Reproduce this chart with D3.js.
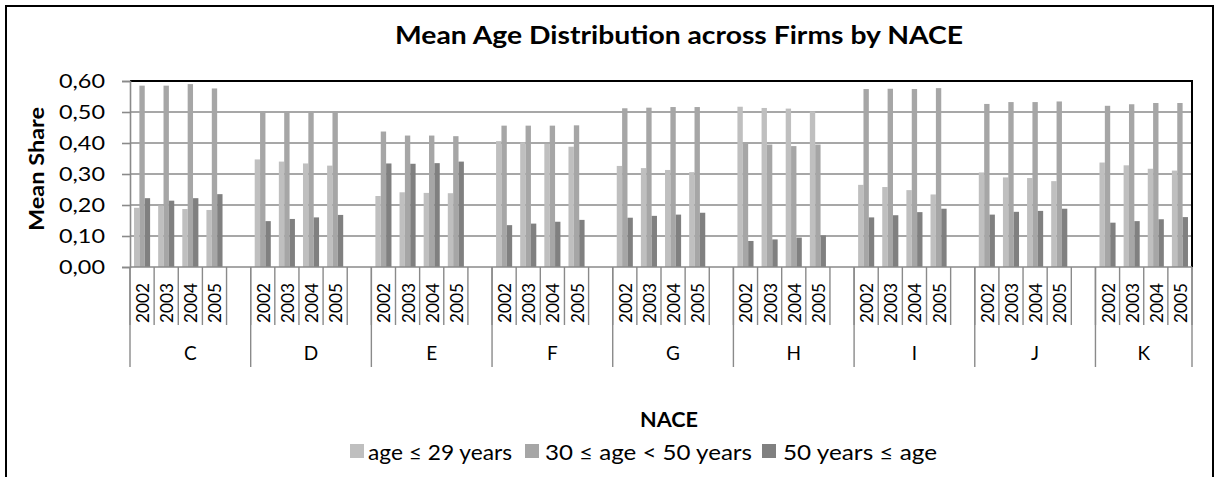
<!DOCTYPE html>
<html>
<head>
<meta charset="utf-8">
<script src="https://cdn.jsdelivr.net/npm/d3@7"></script>
<style>
  html, body { margin: 0; padding: 0; background: #fff; }
  svg { display: block; font-family: Lato, "Open Sans", sans-serif; }
</style>
</head>
<body>
<svg id="chart" width="1219" height="477"></svg>
<script>
// ---- data ----
const categories = ["C", "D", "E", "F", "G", "H", "I", "J", "K"];
const years = ["2002", "2003", "2004", "2005"];
const seriesNames = ["age \u2264 29 years", "30 \u2264 age < 50 years", "50 years \u2264 age"];
// values ordered category by category, year by year
const young = [
  0.191, 0.198, 0.187, 0.184,
  0.347, 0.340, 0.334, 0.327,
  0.229, 0.241, 0.239, 0.238,
  0.406, 0.402, 0.397, 0.388,
  0.326, 0.319, 0.313, 0.306,
  0.517, 0.513, 0.511, 0.502,
  0.265, 0.258, 0.248, 0.234,
  0.305, 0.289, 0.287, 0.277,
  0.337, 0.328, 0.317, 0.311
];
const middle = [
  0.585, 0.585, 0.590, 0.576,
  0.501, 0.501, 0.501, 0.501,
  0.437, 0.424, 0.424, 0.422,
  0.456, 0.456, 0.456, 0.457,
  0.512, 0.514, 0.516, 0.516,
  0.397, 0.395, 0.390, 0.395,
  0.574, 0.575, 0.574, 0.577,
  0.526, 0.532, 0.532, 0.534,
  0.520, 0.525, 0.529, 0.529
];
const old = [
  0.222, 0.214, 0.222, 0.235,
  0.148, 0.155, 0.160, 0.168,
  0.334, 0.333, 0.335, 0.340,
  0.135, 0.140, 0.146, 0.152,
  0.159, 0.165, 0.169, 0.175,
  0.084, 0.089, 0.095, 0.102,
  0.160, 0.167, 0.177, 0.188,
  0.169, 0.178, 0.181, 0.188,
  0.143, 0.148, 0.154, 0.161
];
const yTicks = [0, 0.1, 0.2, 0.3, 0.4, 0.5, 0.6];
const yTickLabels = ["0,00", "0,10", "0,20", "0,30", "0,40", "0,50", "0,60"];
const title = "Mean Age Distribution across Firms by NACE";
const yTitle = "Mean Share";
const xTitle = "NACE";
const colors = ["#bfbfbf", "#a6a6a6", "#808080"];

// ---- layout ----
const svg = d3.select("#chart");
const plot = { left: 130, right: 1192, top: 81, bottom: 267 };

// slots: 4 years per category, a blank slot between categories
const slots = [];
categories.forEach((c, ci) => {
  years.forEach(yr => slots.push(c + "|" + yr));
  if (ci < categories.length - 1) slots.push(c + "|gap");
});

const x = d3.scaleBand().domain(slots).range([plot.left, plot.right]).padding(0);
const inner = d3.scaleBand().domain([0, 1, 2]).range([0, x.bandwidth()])
  .paddingInner(0).paddingOuter(0.75);
const y = d3.scaleLinear().domain([0, 0.6]).range([plot.bottom, plot.top]);

// outer chart border
svg.append("rect").attr("x", 6).attr("y", 6).attr("width", 1207).attr("height", 490)
  .attr("fill", "none").attr("stroke", "#000").attr("stroke-width", 2);

// gridlines
svg.append("g").selectAll("line").data(yTicks.filter(d => d > 0 && d < 0.6)).join("line")
  .attr("x1", plot.left).attr("x2", plot.right)
  .attr("y1", d => y(d)).attr("y2", d => y(d))
  .attr("stroke", "#8a8a8a").attr("stroke-width", 1.6);

// bars
const records = [];
const seriesVals = [young, middle, old];
categories.forEach((c, ci) => {
  years.forEach((yr, yi) => {
    const idx = ci * years.length + yi;
    seriesVals.forEach((arr, si) => records.push({ slot: c + "|" + yr, s: si, v: arr[idx] }));
  });
});
svg.append("g").selectAll("rect").data(records).join("rect")
  .attr("x", d => x(d.slot) + inner(d.s))
  .attr("width", inner.bandwidth())
  .attr("y", d => y(d.v))
  .attr("height", d => y(0) - y(d.v))
  .attr("fill", d => colors[d.s]);

// plot border top & right (black)
svg.append("path")
  .attr("d", `M${plot.left},${plot.top}H${plot.right}V${plot.bottom}`)
  .attr("fill", "none").attr("stroke", "#000").attr("stroke-width", 2);

// y axis
const yAxis = svg.append("g").attr("transform", `translate(${plot.left},0)`)
  .call(d3.axisLeft(y).tickValues(yTicks).tickFormat((d, i) => yTickLabels[i])
    .tickSize(8).tickPadding(17));
yAxis.select(".domain").attr("stroke", "#8a8a8a").attr("stroke-width", 1.6);
yAxis.selectAll(".tick line").attr("stroke", "#8a8a8a").attr("stroke-width", 1.6);
yAxis.selectAll(".tick text").attr("font-size", 20).attr("fill", "#000")
  .attr("font-family", "Lato, sans-serif").attr("textLength", 46).attr("lengthAdjust", "spacingAndGlyphs");

// x axis: baseline
svg.append("line").attr("x1", plot.left).attr("x2", plot.right)
  .attr("y1", plot.bottom).attr("y2", plot.bottom)
  .attr("stroke", "#8a8a8a").attr("stroke-width", 1.6);

// year-level separators
const bounds = slots.map(s => x(s)).concat([plot.right]);
svg.append("g").selectAll("line").data(bounds).join("line")
  .attr("x1", d => d).attr("x2", d => d)
  .attr("y1", plot.bottom).attr("y2", 325)
  .attr("stroke", "#8a8a8a").attr("stroke-width", 1.4);

// category-level separators
const groupStarts = categories.map(c => x(c + "|" + years[0])).concat([plot.right]);
svg.append("g").selectAll("line").data(groupStarts).join("line")
  .attr("x1", d => d).attr("x2", d => d)
  .attr("y1", plot.bottom).attr("y2", 367)
  .attr("stroke", "#8a8a8a").attr("stroke-width", 1.4);

// year labels
const yearSlots = slots.filter(s => !s.endsWith("|gap"));
svg.append("g").selectAll("text").data(yearSlots).join("text")
  .attr("transform", d => `translate(${x(d) + x.bandwidth() / 2},303) rotate(-90)`)
  .attr("text-anchor", "middle").attr("dominant-baseline", "central")
  .attr("font-size", 18).attr("textLength", 40).attr("lengthAdjust", "spacingAndGlyphs")
  .text(d => d.split("|")[1]);

// category labels
svg.append("g").selectAll("text").data(categories).join("text")
  .attr("x", (d, i) => (groupStarts[i] + groupStarts[i + 1]) / 2)
  .attr("y", 360)
  .attr("text-anchor", "middle").attr("font-size", 19)
  .text(d => d);

// titles
svg.append("text").attr("x", 679).attr("y", 44).attr("text-anchor", "middle")
  .attr("font-size", 24).attr("font-weight", "bold")
  .attr("textLength", 568).attr("lengthAdjust", "spacingAndGlyphs").text(title);
svg.append("text").attr("transform", "translate(44,169) rotate(-90)")
  .attr("text-anchor", "middle").attr("font-size", 21).attr("font-weight", "bold")
  .attr("textLength", 124).attr("lengthAdjust", "spacingAndGlyphs").text(yTitle);
svg.append("text").attr("x", 669).attr("y", 427).attr("text-anchor", "middle")
  .attr("font-size", 21).attr("font-weight", "bold")
  .attr("textLength", 58).attr("lengthAdjust", "spacingAndGlyphs").text(xTitle);

// legend
const legendItems = [
  { sq: 350, tx: 368, len: 144 },
  { sq: 525, tx: 545, len: 207 },
  { sq: 762, tx: 783, len: 154 }
];
const lg = svg.append("g").selectAll("g").data(seriesNames).join("g");
lg.append("rect")
  .attr("x", (d, i) => legendItems[i].sq).attr("y", 444)
  .attr("width", 14).attr("height", 14)
  .attr("fill", (d, i) => colors[i]);
lg.append("text")
  .attr("x", (d, i) => legendItems[i].tx).attr("y", 460)
  .attr("font-size", 21)
  .attr("textLength", (d, i) => legendItems[i].len).attr("lengthAdjust", "spacingAndGlyphs")
  .text(d => d);
</script>
</body>
</html>
